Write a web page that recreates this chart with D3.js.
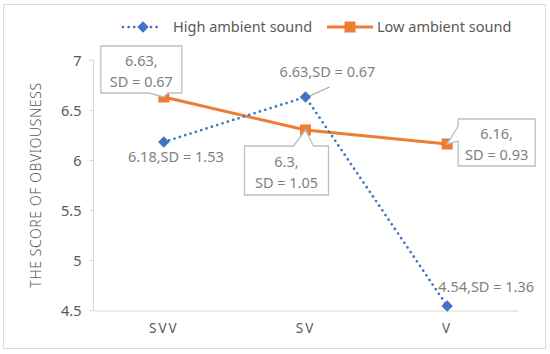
<!DOCTYPE html>
<html>
<head>
<meta charset="utf-8">
<script src="https://cdn.jsdelivr.net/npm/d3@7"></script>
<style>
  body { margin: 0; background: #fff; }
  text { font-family: "Noto Sans", sans-serif; }
</style>
</head>
<body>
<div id="chart"></div>
<script>
// data
const categories = ["SVV", "SV", "V"];
const highValues = [6.18, 6.63, 4.54];
const highSD = [1.53, 0.67, 1.36];
const lowValues = [6.63, 6.3, 6.16];
const lowSD = [0.67, 1.05, 0.93];
const yTicks = [4.5, 5, 5.5, 6, 6.5, 7];

const width = 550, height = 354;
const blue = "#4472c4", orange = "#ed7d31";

const svg = d3.select("#chart").append("svg")
  .attr("width", width)
  .attr("height", height);

// outer frame
svg.append("rect")
  .attr("x", 3.5).attr("y", 4.5)
  .attr("width", 542).attr("height", 344)
  .attr("fill", "#fff").attr("stroke", "#d9d9d9");

const x = d3.scaleBand()
  .domain(categories)
  .range([93, 518]);

const y = d3.scaleLinear()
  .domain([4.5, 7])
  .range([310, 60]);

const cx = d => x(d) + x.bandwidth() / 2;

// Y axis
const yAxis = svg.append("g")
  .attr("transform", "translate(93.5,0)")
  .call(d3.axisLeft(y).tickValues(yTicks).tickSize(4).tickPadding(8)
    .tickFormat(d => d));
yAxis.select(".domain").attr("stroke", "#d9d9d9").attr("d", `M-4,${y(7)}H0V${y(4.5)}`);
yAxis.selectAll(".tick line").attr("stroke", "#d9d9d9");
yAxis.selectAll(".tick text")
  .attr("fill", "#595959").style("font-size", "14.5px")
  .attr("dy", "0.35em");

// X axis
const xAxis = svg.append("g")
  .attr("transform", `translate(0,${y(4.5) + 0.5})`)
  .call(d3.axisBottom(x).tickSize(0).tickPadding(13));
xAxis.select(".domain").attr("stroke", "#d9d9d9");
xAxis.selectAll(".tick text")
  .attr("fill", "#595959").style("font-size", "13.5px")
  .style("letter-spacing", "2px");

// Y title
svg.append("text")
  .attr("transform", `translate(41,${(y(7) + y(4.5)) / 2}) rotate(-90)`)
  .attr("text-anchor", "middle")
  .attr("fill", "#595959")
  .style("font-size", "14px")
  .style("font-weight", 300)
  .style("letter-spacing", "0.6px")
  .text("THE SCORE OF OBVIOUSNESS");

const line = d3.line().x((d, i) => cx(categories[i])).y(d => y(d));

// Low series
svg.append("path")
  .datum(lowValues)
  .attr("d", line)
  .attr("fill", "none")
  .attr("stroke", orange)
  .attr("stroke-width", 3);

// High series
svg.append("path")
  .datum(highValues)
  .attr("d", line)
  .attr("fill", "none")
  .attr("stroke", blue)
  .attr("stroke-width", 2.75)
  .attr("stroke-linecap", "round")
  .attr("stroke-dasharray", "0 5.6");

svg.selectAll(".low-mark")
  .data(lowValues)
  .enter().append("rect")
  .attr("x", (d, i) => cx(categories[i]) - 5.5)
  .attr("y", d => y(d) - 5.5)
  .attr("width", 11).attr("height", 11)
  .attr("fill", orange);

svg.selectAll(".high-mark")
  .data(highValues)
  .enter().append("path")
  .attr("d", d3.symbol(d3.symbolSquare, 66))
  .attr("transform", (d, i) => `translate(${cx(categories[i])},${y(d)}) rotate(45)`)
  .attr("fill", blue);

// data labels, high series (plain text)
const highLabelPos = [
  { dx: 12, dy: 20 },
  { dx: 22, dy: -20 },
  { dx: 39, dy: -14 }
];
highValues.forEach((v, i) => {
  const px = cx(categories[i]), py = y(v);
  svg.append("text")
    .attr("x", px + highLabelPos[i].dx)
    .attr("y", py + highLabelPos[i].dy)
    .attr("text-anchor", "middle")
    .attr("fill", "#7f7f7f")
    .style("font-size", "14.5px")
    .text(`${v},SD = ${highSD[i]}`);
});
// leader line for SV label
svg.append("line")
  .attr("x1", cx("SV") + 24).attr("y1", y(highValues[1]) - 10)
  .attr("x2", cx("SV") + 4).attr("y2", y(highValues[1]) - 1)
  .attr("stroke", "#a6a6a6").attr("stroke-width", 1.2);

// callouts, low series
// box relative to the point, wedge on one side
const lowCallouts = [
  { x0: -63, x1: 18, y0: -51, y1: -4, side: "bottom", a: -15, b: 4 },
  { x0: -61, x1: 23, y0: 16, y1: 65, side: "top", a: -12, b: 8 },
  { x0: 11, x1: 88, y0: -25, y1: 22, side: "left", a: -18, b: -3 }
];

function calloutPath(px, py, c) {
  const X0 = px + c.x0, X1 = px + c.x1, Y0 = py + c.y0, Y1 = py + c.y1;
  const p = d3.path();
  if (c.side === "bottom") {
    p.moveTo(X0, Y0); p.lineTo(X1, Y0); p.lineTo(X1, Y1);
    p.lineTo(px + c.b, Y1); p.lineTo(px, py); p.lineTo(px + c.a, Y1);
    p.lineTo(X0, Y1);
  } else if (c.side === "top") {
    p.moveTo(X0, Y0); p.lineTo(px + c.a, Y0); p.lineTo(px, py);
    p.lineTo(px + c.b, Y0); p.lineTo(X1, Y0); p.lineTo(X1, Y1);
    p.lineTo(X0, Y1);
  } else {
    p.moveTo(X0, Y0); p.lineTo(X1, Y0); p.lineTo(X1, Y1); p.lineTo(X0, Y1);
    p.lineTo(X0, py + c.b); p.lineTo(px, py); p.lineTo(X0, py + c.a);
  }
  p.closePath();
  return p.toString();
}

lowValues.forEach((v, i) => {
  const px = cx(categories[i]), py = y(v), c = lowCallouts[i];
  svg.append("path")
    .attr("d", calloutPath(px, py, c))
    .attr("fill", "#fff")
    .attr("stroke", "#bfbfbf")
    .attr("stroke-width", 1.3);
  const tx = px + (c.x0 + c.x1) / 2;
  const ty = py + (c.y0 + c.y1) / 2;
  const t = svg.append("text")
    .attr("text-anchor", "middle")
    .attr("fill", "#7f7f7f")
    .style("font-size", "14.5px");
  t.append("tspan").attr("x", tx).attr("y", ty - 4).text(`${v},`);
  t.append("tspan").attr("x", tx).attr("y", ty + 17).text(`SD = ${lowSD[i]}`);
});

// legend
const leg = svg.append("g");
leg.append("line")
  .attr("x1", 123).attr("x2", 162).attr("y1", 27).attr("y2", 27)
  .attr("stroke", blue).attr("stroke-width", 2.75)
  .attr("stroke-linecap", "round").attr("stroke-dasharray", "0 5.6");
leg.append("path")
  .attr("d", d3.symbol(d3.symbolSquare, 66))
  .attr("transform", "translate(143,27) rotate(45)")
  .attr("fill", blue);
leg.append("text")
  .attr("x", 173).attr("y", 32)
  .attr("fill", "#595959").style("font-size", "14.5px")
  .text("High ambient sound");
leg.append("line")
  .attr("x1", 327).attr("x2", 373).attr("y1", 27).attr("y2", 27)
  .attr("stroke", orange).attr("stroke-width", 3);
leg.append("rect")
  .attr("x", 344.5).attr("y", 21.5).attr("width", 11).attr("height", 11)
  .attr("fill", orange);
leg.append("text")
  .attr("x", 377).attr("y", 32)
  .attr("fill", "#595959").style("font-size", "14.5px")
  .text("Low ambient sound");
</script>
</body>
</html>
